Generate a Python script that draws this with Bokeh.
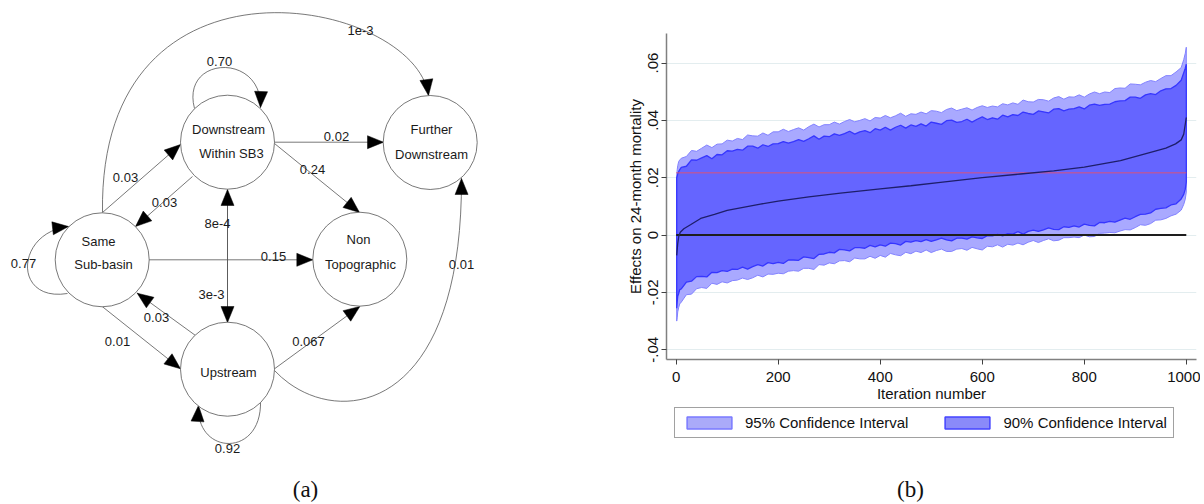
import math
from bokeh.plotting import figure
from bokeh.layouts import row, column
from bokeh.models import Range1d, FixedTicker, Legend, LegendItem
from bokeh.core.properties import value
from bokeh.embed import file_html
from bokeh.resources import INLINE

# ---------------- Panel (a): transition diagram data ----------------
node_id = ["same", "down", "further", "nontopo", "up"]
node_line1 = ["Same", "Downstream", "Further", "Non", "Upstream"]
node_line2 = ["Sub-basin", "Within SB3", "Downstream", "Topographic", ""]

edge_src = ["same", "down", "down", "down", "same", "down", "up", "down",
            "same", "same", "up", "same", "up", "up", "up"]
edge_dst = ["further", "down", "further", "nontopo", "down", "same", "down", "up",
            "same", "nontopo", "same", "up", "nontopo", "further", "up"]
edge_lbl = ["1e-3", "0.70", "0.02", "0.24", "0.03", "0.03", "8e-4", "3e-3",
            "0.77", "0.15", "0.03", "0.01", "0.067", "0.01", "0.92"]

# ---------------- Panel (b): simulation data ----------------
band_it = [1, 2, 3, 5, 7] + list(range(10, 1000, 10)) + [995, 998, 1000]
hi95 = [0.0205, 0.0228, 0.0242, 0.0257, 0.0262,
        0.0268, 0.0274, 0.0295, 0.0292, 0.0303, 0.0314, 0.0305, 0.0317, 0.0318, 0.0331,
        0.0328, 0.0337, 0.0333, 0.0349, 0.0346, 0.0345, 0.0356, 0.0348, 0.0360, 0.0360,
        0.0369, 0.0361, 0.0368, 0.0374, 0.0366, 0.0378, 0.0387, 0.0377, 0.0385, 0.0385,
        0.0394, 0.0387, 0.0396, 0.0403, 0.0395, 0.0400, 0.0406, 0.0398, 0.0410, 0.0408,
        0.0417, 0.0409, 0.0416, 0.0425, 0.0414, 0.0423, 0.0421, 0.0429, 0.0423, 0.0434,
        0.0432, 0.0427, 0.0438, 0.0443, 0.0434, 0.0439, 0.0444, 0.0436, 0.0445, 0.0451,
        0.0445, 0.0450, 0.0447, 0.0458, 0.0454, 0.0461, 0.0456, 0.0471, 0.0465, 0.0464,
        0.0473, 0.0472, 0.0467, 0.0478, 0.0483, 0.0474, 0.0482, 0.0481, 0.0489, 0.0481,
        0.0492, 0.0499, 0.0493, 0.0499, 0.0497, 0.0511, 0.0513, 0.0512, 0.0527, 0.0526,
        0.0524, 0.0533, 0.0539, 0.0535, 0.0546, 0.0556, 0.0556, 0.0569, 0.0584,
        0.0612, 0.0634, 0.0655]
hi90 = [0.0200, 0.0205, 0.0214, 0.0222, 0.0228,
        0.0236, 0.0240, 0.0262, 0.0261, 0.0269, 0.0277, 0.0266, 0.0281, 0.0280, 0.0294,
        0.0293, 0.0299, 0.0296, 0.0310, 0.0310, 0.0303, 0.0315, 0.0309, 0.0318, 0.0319,
        0.0326, 0.0321, 0.0326, 0.0333, 0.0327, 0.0336, 0.0346, 0.0334, 0.0345, 0.0343,
        0.0353, 0.0348, 0.0354, 0.0362, 0.0352, 0.0360, 0.0364, 0.0357, 0.0371, 0.0366,
        0.0376, 0.0366, 0.0376, 0.0383, 0.0373, 0.0384, 0.0379, 0.0388, 0.0380, 0.0394,
        0.0390, 0.0386, 0.0399, 0.0401, 0.0393, 0.0396, 0.0404, 0.0394, 0.0404, 0.0412,
        0.0403, 0.0409, 0.0404, 0.0418, 0.0412, 0.0420, 0.0417, 0.0429, 0.0424, 0.0421,
        0.0433, 0.0430, 0.0426, 0.0439, 0.0441, 0.0433, 0.0439, 0.0441, 0.0447, 0.0440,
        0.0453, 0.0457, 0.0452, 0.0456, 0.0457, 0.0465, 0.0468, 0.0469, 0.0481, 0.0481,
        0.0477, 0.0489, 0.0493, 0.0490, 0.0503, 0.0510, 0.0511, 0.0522, 0.0540,
        0.0566, 0.0582, 0.0596]
lo90 = [-0.0255, -0.0232, -0.0214, -0.0203, -0.0190,
        -0.0188, -0.0164, -0.0161, -0.0145, -0.0144, -0.0146, -0.0130, -0.0131, -0.0124, -0.0127,
        -0.0119, -0.0120, -0.0112, -0.0119, -0.0110, -0.0103, -0.0108, -0.0096, -0.0100, -0.0095,
        -0.0099, -0.0087, -0.0087, -0.0088, -0.0076, -0.0079, -0.0082, -0.0067, -0.0066, -0.0060,
        -0.0062, -0.0050, -0.0052, -0.0055, -0.0044, -0.0044, -0.0046, -0.0036, -0.0041, -0.0034,
        -0.0039, -0.0028, -0.0030, -0.0035, -0.0022, -0.0025, -0.0019, -0.0023, -0.0016, -0.0022,
        -0.0017, -0.0011, -0.0017, -0.0020, -0.0011, -0.0011, -0.0014, -0.0006, -0.0010, -0.0012,
        -0.0002, -0.0003, 0.0002, -0.0003, 0.0005, 0.0003, 0.0012, 0.0003, 0.0013, 0.0017,
        0.0013, 0.0018, 0.0025, 0.0020, 0.0019, 0.0029, 0.0027, 0.0032, 0.0028, 0.0038,
        0.0034, 0.0032, 0.0044, 0.0043, 0.0048, 0.0045, 0.0052, 0.0059, 0.0055, 0.0064,
        0.0072, 0.0073, 0.0077, 0.0090, 0.0093, 0.0095, 0.0105, 0.0109, 0.0126,
        0.0142, 0.0160, 0.0185]
lo95 = [-0.0300, -0.0288, -0.0268, -0.0252, -0.0240,
        -0.0234, -0.0208, -0.0206, -0.0187, -0.0183, -0.0186, -0.0168, -0.0172, -0.0163, -0.0167,
        -0.0159, -0.0157, -0.0150, -0.0155, -0.0149, -0.0140, -0.0146, -0.0136, -0.0137, -0.0133,
        -0.0135, -0.0126, -0.0124, -0.0126, -0.0116, -0.0116, -0.0120, -0.0103, -0.0105, -0.0097,
        -0.0100, -0.0090, -0.0089, -0.0093, -0.0080, -0.0083, -0.0083, -0.0074, -0.0081, -0.0071,
        -0.0077, -0.0064, -0.0069, -0.0072, -0.0060, -0.0065, -0.0056, -0.0061, -0.0052, -0.0061,
        -0.0054, -0.0049, -0.0057, -0.0057, -0.0049, -0.0047, -0.0053, -0.0043, -0.0048, -0.0052,
        -0.0039, -0.0041, -0.0034, -0.0042, -0.0032, -0.0035, -0.0028, -0.0034, -0.0025, -0.0019,
        -0.0026, -0.0019, -0.0013, -0.0020, -0.0018, -0.0009, -0.0009, -0.0007, -0.0009, 0.0000,
        -0.0006, -0.0005, 0.0006, 0.0007, 0.0009, 0.0008, 0.0014, 0.0019, 0.0018, 0.0026,
        0.0036, 0.0034, 0.0040, 0.0052, 0.0053, 0.0058, 0.0067, 0.0073, 0.0087,
        0.0107, 0.0125, 0.0150]
pt_it = [1, 3, 5, 8, 15, 28, 48, 75, 100, 165, 200, 260, 322, 400, 460, 518, 600,
         675, 740, 800, 871, 937, 960, 979, 990, 995, 1000]
pt_val = [-0.0071, -0.0030, -0.0005, 0.0010, 0.0022, 0.0036, 0.0058, 0.0072, 0.0086,
          0.0108, 0.0118, 0.0133, 0.0146, 0.0161, 0.0172, 0.0184, 0.0200, 0.0213,
          0.0224, 0.0237, 0.0260, 0.0292, 0.0303, 0.0318, 0.0332, 0.0352, 0.0410]
ref_span = [0, 1000]
ref_zero = 0.0
ref_red = 0.0217
x_ticks = [0, 200, 400, 600, 800, 1000]
y_ticks = [-0.04, -0.02, 0.0, 0.02, 0.04, 0.06]
y_tick_labels = ["-.04", "-.02", "0", ".02", ".04", ".06"]
legend_labels = ["95% Confidence Interval", "90% Confidence Interval"]
panel_tags = ["(a)", "(b)"]

# ---------------- Layout (page pixel space) ----------------
NODE_XY = {"same": (101.7, 259.3), "down": (227.0, 141.7), "further": (429.7, 142.0),
           "nontopo": (359.3, 258.7), "up": (227.0, 368.7)}
NODE_R = 47
NODE_TEXT_XY = {"same": ((98, 241), (103, 264)), "down": ((228, 129), (231, 153)),
                "further": ((431, 129), (431, 154)), "nontopo": ((358, 239), (360, 264)),
                "up": ((228, 372), (228, 372))}
EDGE_GEOM = [
    ("c", 102, 212, 98, -66, 415, -2, 428, 95),
    ("c", 194, 108, 180, 55, 262, 52, 260, 107),
    ("s", 274, 141.7, 383, 141.7),
    ("s", 274, 143, 359, 212),
    ("s", 102, 212, 180, 144),
    ("s", 192, 176, 135, 226),
    ("s", 227, 322, 227, 189),
    ("s", 227, 189, 227, 322),
    ("c", 67, 293, 12, 302, 15, 232, 68, 226),
    ("s", 148.5, 259.3, 312.3, 259.3),
    ("s", 195, 335, 136.7, 292.7),
    ("s", 101.7, 306, 180, 368.3),
    ("s", 274, 368.3, 359.3, 306),
    ("c", 274, 370, 330, 430, 462, 420, 461, 178),
    ("c", 260, 400, 262, 458, 195, 455, 198, 405),
]
EDGE_LABEL_XY = [(360, 30), (219, 61), (336, 136), (312, 169), (125, 177), (164, 202),
                 (217, 223), (211, 294), (23, 263), (273, 256), (156, 317), (117, 341),
                 (308, 341), (461, 264), (227, 448)]
TAG_XY = [(305, 489), (910, 489)]

SANS = "Liberation Sans"
SERIF = "Liberation Serif"
EDGE_COLOR = "#555555"
PAGE_H = 504
PB_H = 404
NAN = float("nan")


def head(tx, ty, fx, fy, L=16.0, W=6.5):
    dx, dy = tx - fx, ty - fy
    n = math.hypot(dx, dy)
    ux, uy = dx / n, dy / n
    bx, by = tx - L * ux, ty - L * uy
    px, py = -uy, ux
    return [tx, bx + W * px, bx - W * px], [ty, by + W * py, by - W * py]


def no_align(fig):
    try:
        fig.frame_align = False
    except Exception:
        pass


pa = figure(width=600, height=PAGE_H, x_range=Range1d(0, 600), y_range=Range1d(PAGE_H, 0),
            x_axis_type=None, y_axis_type=None,
            min_border_left=0, min_border_right=0, min_border_top=0, min_border_bottom=0,
            toolbar_location=None, output_backend="svg")
pa.grid.visible = False
pa.outline_line_color = None
no_align(pa)

seg = dict(x0=[], y0=[], x1=[], y1=[])
bez = dict(x0=[], y0=[], cx0=[], cy0=[], cx1=[], cy1=[], x1=[], y1=[])
hx, hy = [], []
for g in EDGE_GEOM:
    if g[0] == "s":
        _, x0, y0, x1, y1 = g
        seg["x0"].append(x0); seg["y0"].append(y0); seg["x1"].append(x1); seg["y1"].append(y1)
        a, b = head(x1, y1, x0, y0)
    else:
        _, x0, y0, cx0, cy0, cx1, cy1, x1, y1 = g
        for k, v in zip(["x0", "y0", "cx0", "cy0", "cx1", "cy1", "x1", "y1"],
                        [x0, y0, cx0, cy0, cx1, cy1, x1, y1]):
            bez[k].append(v)
        a, b = head(x1, y1, cx1, cy1)
    hx.append(a); hy.append(b)

pa.segment(x0="x0", y0="y0", x1="x1", y1="y1", source=seg, line_color=EDGE_COLOR, line_width=0.8)
pa.bezier(x0="x0", y0="y0", cx0="cx0", cy0="cy0", cx1="cx1", cy1="cy1", x1="x1", y1="y1",
          source=bez, line_color=EDGE_COLOR, line_width=0.8)
pa.patches(hx, hy, fill_color="black", line_color="black", line_width=0.5)

pa.circle(x=[NODE_XY[n][0] for n in node_id], y=[NODE_XY[n][1] for n in node_id],
          radius=NODE_R, fill_color="white", line_color=EDGE_COLOR, line_width=0.8)

tx, ty, tt = [], [], []
for n, l1, l2 in zip(node_id, node_line1, node_line2):
    (x1_, y1_), (x2_, y2_) = NODE_TEXT_XY[n]
    tx.append(x1_); ty.append(y1_); tt.append(l1)
    if l2:
        tx.append(x2_); ty.append(y2_); tt.append(l2)
pa.text(x=tx, y=ty, text=tt, text_align="center", text_baseline="middle",
        text_font=value(SANS), text_font_size="13px", text_color="#1a1a1a")
pa.text(x=[p[0] for p in EDGE_LABEL_XY], y=[p[1] for p in EDGE_LABEL_XY], text=edge_lbl,
        text_align="center", text_baseline="middle",
        text_font=value(SANS), text_font_size="13px", text_color="#1a1a1a")
pa.text(x=[TAG_XY[0][0]], y=[TAG_XY[0][1]], text=[panel_tags[0]], text_align="center",
        text_baseline="middle", text_font=value(SERIF), text_font_size="23px", text_color="#111111")

# ---------------- Panel (b): plot ----------------
pb = figure(width=600, height=PB_H, x_range=Range1d(-19, 1020), y_range=Range1d(-0.0434, 0.0703),
            min_border_left=66, min_border_right=4, min_border_top=33,
            min_border_bottom=PB_H - 33 - 326,
            toolbar_location=None, output_backend="svg")
pb.outline_line_color = None
pb.xgrid.visible = False
pb.ygrid.ticker = FixedTicker(ticks=y_ticks)
pb.ygrid.grid_line_color = "#e3edef"
pb.ygrid.grid_line_width = 1
no_align(pb)

BAND95 = dict(fill_color="#a9a9ff", line_color="#8282ff")
BAND90 = dict(fill_color="#6565ff", line_color="#3636ff")
pb.patch(band_it + band_it[::-1], hi95 + lo95[::-1], line_width=1, **BAND95)
pb.patch(band_it + band_it[::-1], hi90 + lo90[::-1], line_width=1.3, **BAND90)
pb.line(ref_span, [ref_red, ref_red], line_color="#d9527a", line_width=1)
pb.line(ref_span, [ref_zero, ref_zero], line_color="#1e1e1e", line_width=2)
pb.line(pt_it, pt_val, line_color="#1e1e6a", line_width=1.3)

for ax in (pb.xaxis[0], pb.yaxis[0]):
    ax.axis_line_color = "#808080"
    ax.axis_line_width = 1.5
    ax.major_tick_line_color = "#404040"
    ax.major_tick_in = 0
    ax.major_tick_out = 5
    ax.minor_tick_line_color = None
    ax.major_label_text_font = SANS
    ax.major_label_text_font_size = "15px"
    ax.major_label_text_color = "#111111"
    ax.axis_label_text_font = SANS
    ax.axis_label_text_font_size = "15px"
    ax.axis_label_text_font_style = "normal"
    ax.axis_label_text_color = "#111111"
    ax.major_label_standoff = 3
    ax.axis_label_standoff = 2

pb.xaxis[0].major_label_standoff = 7
pb.xaxis[0].axis_label_standoff = 0
pb.xaxis[0].ticker = FixedTicker(ticks=x_ticks)
pb.xaxis[0].axis_label = "Iteration number"
pb.yaxis[0].ticker = FixedTicker(ticks=y_ticks)
pb.yaxis[0].major_label_overrides = {t: s for t, s in zip(y_ticks, y_tick_labels)}
pb.yaxis[0].major_label_orientation = "vertical"
pb.yaxis[0].axis_label = "Effects on 24-month mortality"

# ---------------- Panel (b): legend strip and tag ----------------
pc = figure(width=600, height=PAGE_H - PB_H, x_range=Range1d(600, 1200),
            y_range=Range1d(PAGE_H, PB_H), x_axis_type=None, y_axis_type=None,
            min_border_left=0, min_border_right=0, min_border_top=0, min_border_bottom=0,
            toolbar_location=None, output_backend="svg")
pc.grid.visible = False
pc.outline_line_color = None
no_align(pc)

# legend keys only (no visible geometry)
sw95 = pc.quad(left=[NAN], right=[NAN], top=[NAN], bottom=[NAN], fill_color="#aaaaf9",
               line_color="#7a7aff", line_width=1.5)
sw90 = pc.quad(left=[NAN], right=[NAN], top=[NAN], bottom=[NAN], fill_color="#8a8af9",
               line_color="#4444ff", line_width=1.5)
legend = Legend(items=[LegendItem(label=legend_labels[0], renderers=[sw95]),
                       LegendItem(label=legend_labels[1], renderers=[sw90])],
                orientation="horizontal", location=(74, 66),
                glyph_width=56, glyph_height=15, label_standoff=8, spacing=31,
                padding=6, margin=0, label_height=17,
                border_line_color="#444444", border_line_width=1.5,
                background_fill_color="white", background_fill_alpha=1,
                label_text_font=SANS, label_text_font_size="15px", label_text_color="#111111")
pc.add_layout(legend)
pc.text(x=[TAG_XY[1][0]], y=[TAG_XY[1][1]], text=[panel_tags[1]], text_align="center",
        text_baseline="middle", text_font=value(SERIF), text_font_size="23px", text_color="#111111")

layout = row(pa, column(pb, pc, spacing=0), spacing=0)
open("out.html", "w").write(file_html(layout, INLINE))
